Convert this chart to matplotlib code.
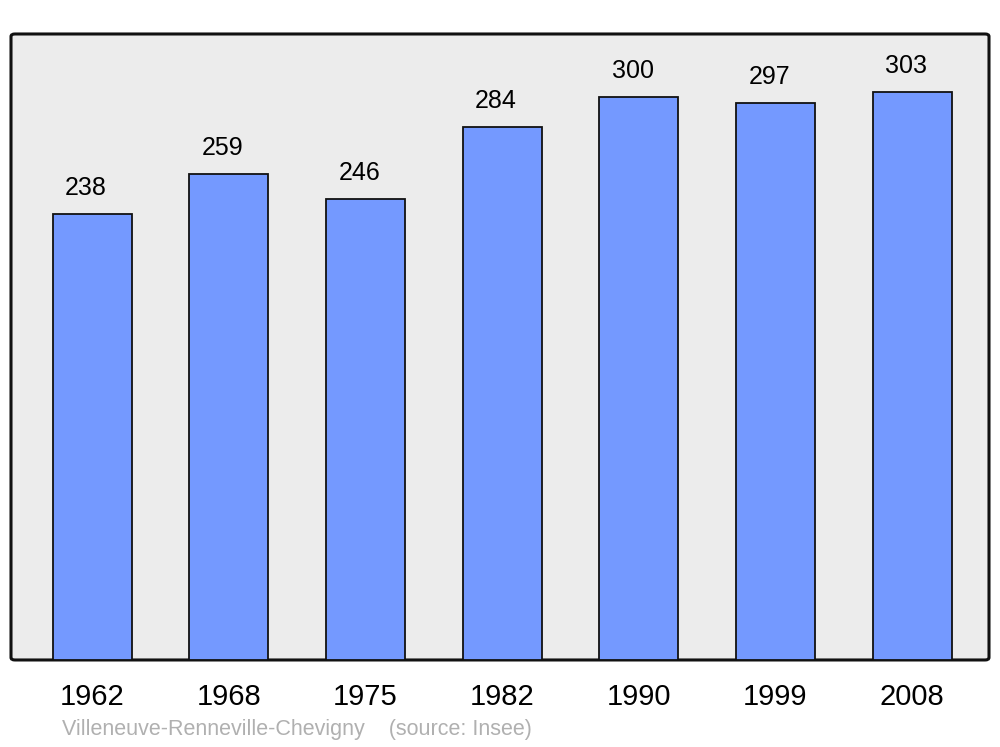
import matplotlib
matplotlib.use("Agg")
import matplotlib.pyplot as plt
from matplotlib.patches import FancyBboxPatch

years = ["1962", "1968", "1975", "1982", "1990", "1999", "2008"]
population = [238, 259, 246, 284, 300, 297, 303]
caption = "Villeneuve-Renneville-Chevigny    (source: Insee)"

plt.rcParams['font.family'] = ['Liberation Sans', 'DejaVu Sans']

fig = plt.figure(figsize=(10, 7.47), dpi=100)
ax = fig.add_axes([0.011, 0.1165, 0.978, 0.838])
ax.set_facecolor('none')

frame = FancyBboxPatch((0, 0), 1, 1, boxstyle="round,pad=0,rounding_size=0.004",
                       transform=ax.transAxes, facecolor='#ececec',
                       edgecolor='#111111', linewidth=2.2, zorder=0, clip_on=False)
ax.add_patch(frame)

x = list(range(len(years)))
bars = ax.bar(x, population, width=0.578, color='#7499ff', edgecolor='#111111',
              linewidth=1.3, zorder=2)
for xi, v in zip(x, population):
    ax.annotate(str(v), (xi, v), xytext=(-4.3, 13.5), textcoords='offset points',
                ha='center', va='baseline', fontsize=18, color='black')

ax.set_xlim(-0.593, 6.563)
ax.set_ylim(0, 333.7)
ax.set_xticks(x)
ax.set_xticklabels(years, fontsize=21)
ax.tick_params(axis='x', length=0, pad=16.5)
ax.set_yticks([])
for s in ax.spines.values():
    s.set_visible(False)

fig.text(0.062, 1 - 730 / 747, caption, fontsize=15.5, color='#b0b0b0',
         ha='left', va='center')

fig.savefig('out.png', dpi=100)
